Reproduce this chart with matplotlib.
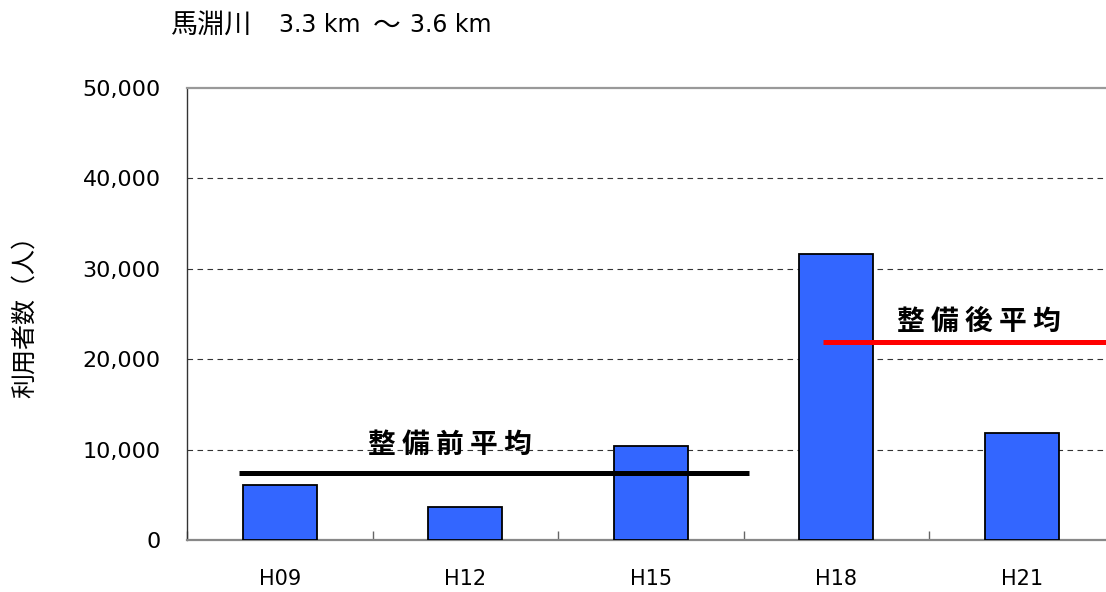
import numpy as np
import matplotlib
matplotlib.use("Agg")
import matplotlib.pyplot as plt
from matplotlib.ticker import FixedLocator, FuncFormatter

# ---- data ----
categories = ["H09", "H12", "H15", "H18", "H21"]
users = [6100, 3600, 10400, 31600, 11800]
pre_avg = 7400
post_avg = 21900
pre_label = "整 備 前 平 均"
post_label = "整 備 後 平 均"
y_ticks = [0, 10000, 20000, 30000, 40000, 50000]
title_river = "馬淵川"
title_from = "3.3 km"
title_sep = "～"
title_to = "3.6 km"
y_label = "利用者数（人）"

plt.rcParams["font.family"] = ["Noto Sans CJK JP", "DejaVu Sans"]

W, H = 1106, 592
fig = plt.figure(figsize=(W / 100, H / 100), dpi=100)
ax = fig.add_axes([187 / W, 52 / H, (1114.5 - 187) / W, 452 / H])

x = np.arange(len(categories))
ax.bar(x, users, width=0.4, color="#3366FF", edgecolor="black",
       linewidth=1.3, zorder=3)

ax.set_xlim(-0.5, 4.5)
ax.set_ylim(0, 50000)

# gridlines
for v in y_ticks[1:-1]:
    ax.axhline(v, color="#333333", lw=0.8, linestyle=(0, (5, 4)), zorder=1)

# spines
ax.spines["top"].set_color("#999999")
ax.spines["top"].set_linewidth(1.6)
ax.spines["left"].set_color("#333333")
ax.spines["left"].set_linewidth(1.0)
ax.spines["bottom"].set_color("#888888")
ax.spines["bottom"].set_linewidth(1.6)
ax.spines["right"].set_visible(False)

# ticks
ax.yaxis.set_major_locator(FixedLocator(y_ticks))
ax.yaxis.set_major_formatter(FuncFormatter(lambda v, p: f"{int(v):,}"))
ax.tick_params(axis="y", length=0, pad=19, labelsize=16)
for lab in ax.get_yticklabels():
    lab.set_fontfamily("DejaVu Sans")

ax.set_xticks(x)
ax.set_xticklabels(categories)
ax.tick_params(axis="x", which="major", length=0, pad=21, labelsize=15)
for lab in ax.get_xticklabels():
    lab.set_fontfamily("DejaVu Sans")
ax.xaxis.set_minor_locator(FixedLocator(np.arange(-0.5, 5.0, 1.0)))
ax.tick_params(axis="x", which="minor", direction="in", length=6.5,
               width=1.0, color="#666666")

# average lines
ax.plot([-0.217, 2.527], [pre_avg, pre_avg], color="black", lw=3.6,
        solid_capstyle="butt", zorder=4)
ax.plot([2.93, 4.6], [post_avg, post_avg], color="#FF0000", lw=3.6,
        solid_capstyle="butt", zorder=4, clip_on=False)

ax.text(0.915, 10500, pre_label, ha="center", va="center", fontsize=20,
        fontweight="bold", zorder=5)
ax.text(3.77, 24100, post_label, ha="center", va="center", fontsize=20,
        fontweight="bold", zorder=5)

ty = 1 - 25.5 / H
fig.text(170 / W, ty, title_river, ha="left", va="center",
         fontsize=19.5, family="Noto Sans CJK JP")
fig.text(279 / W, ty, title_from, ha="left", va="center",
         fontsize=17, family="DejaVu Sans")
fig.text(386.5 / W, ty, title_sep, ha="center", va="center",
         fontsize=20, family="Noto Sans CJK JP")
fig.text(410 / W, ty, title_to, ha="left", va="center",
         fontsize=17, family="DejaVu Sans")
fig.text(25 / W, 1 - 311 / H, y_label, ha="center", va="center",
         rotation=90, fontsize=18)

fig.savefig("out.png", dpi=100)
